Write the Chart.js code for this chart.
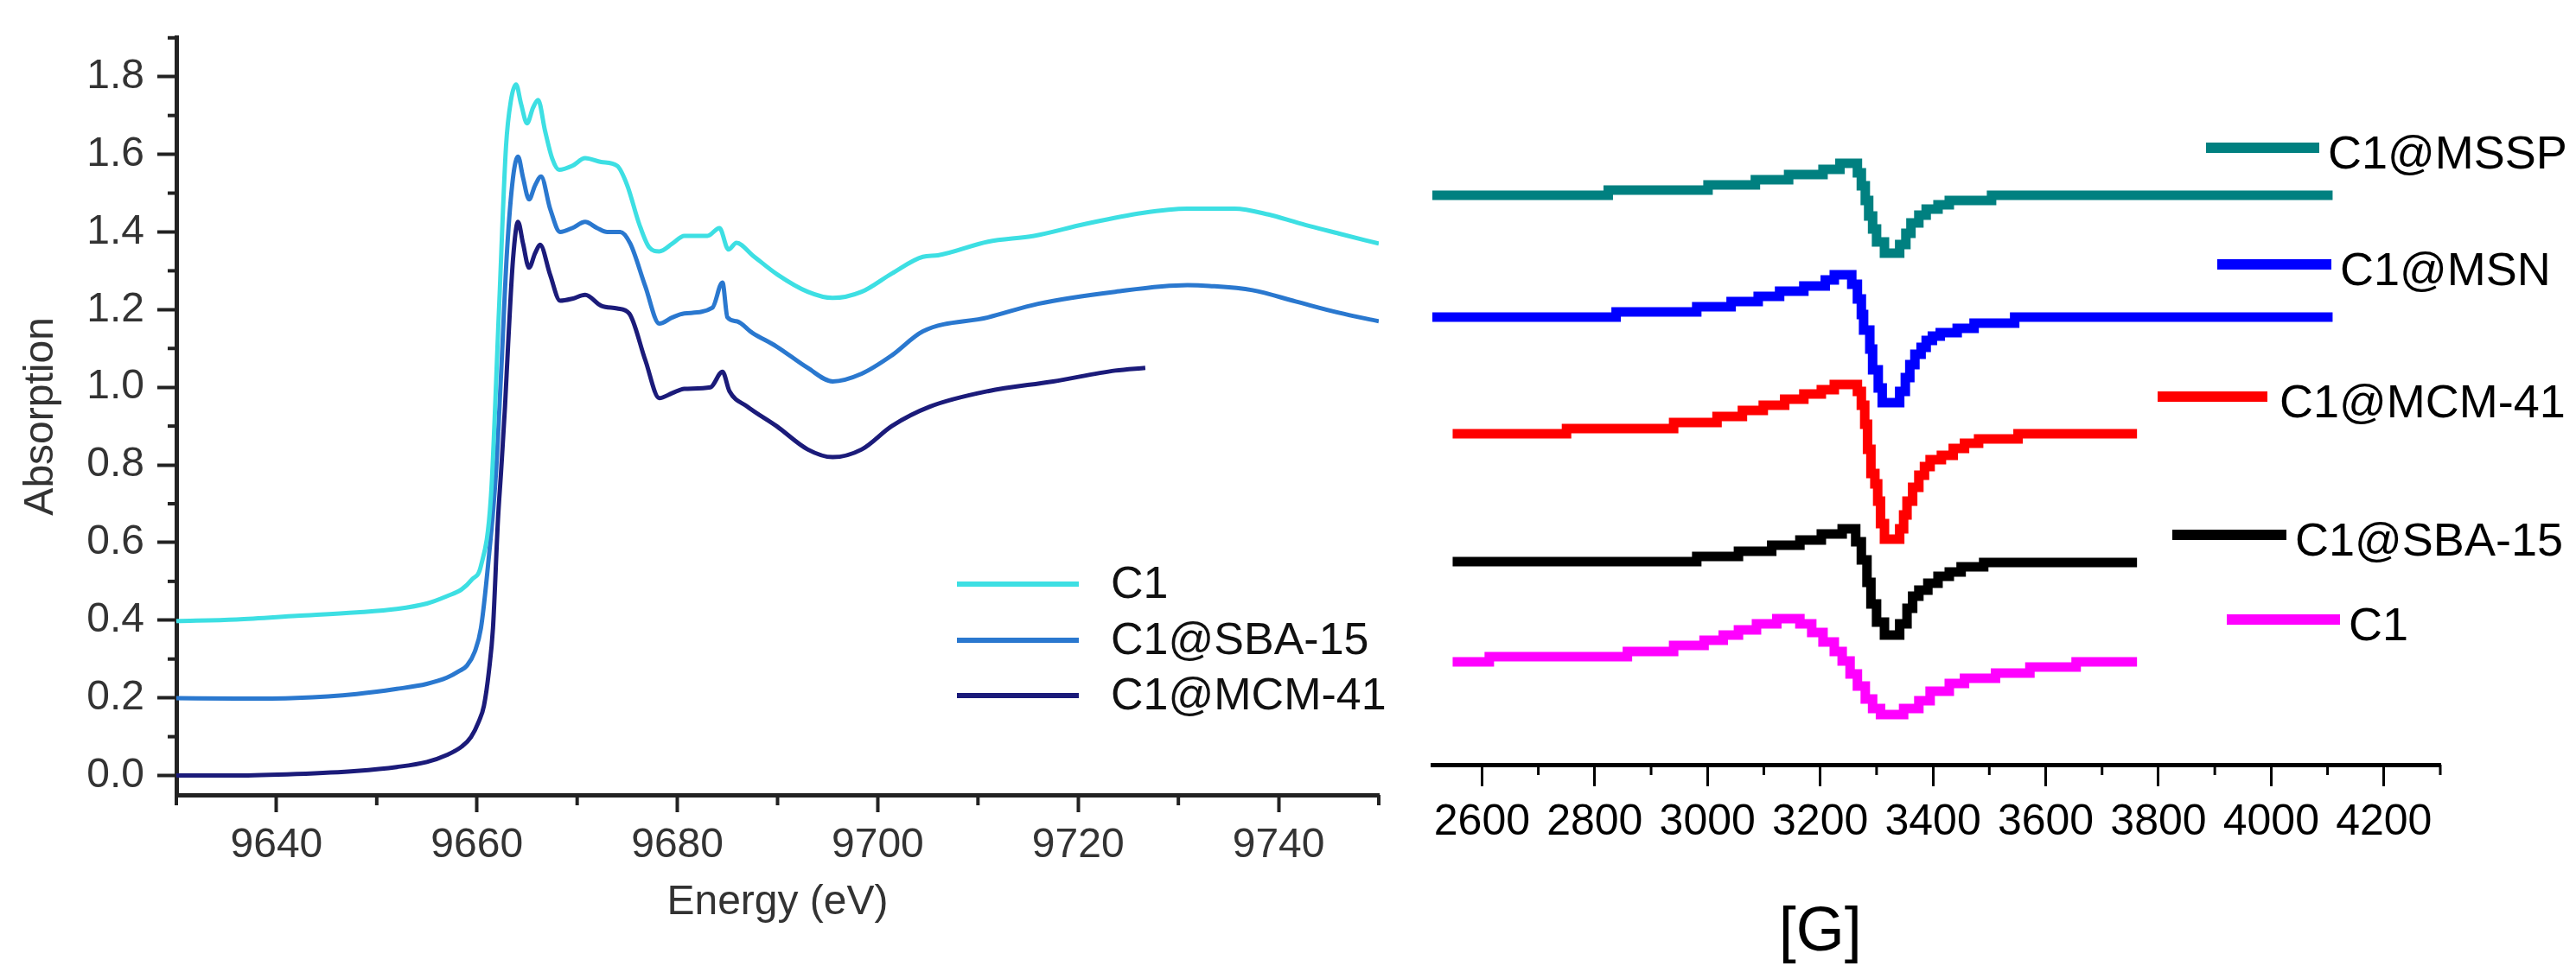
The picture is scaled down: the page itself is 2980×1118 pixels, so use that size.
<!DOCTYPE html>
<html><head><meta charset="utf-8">
<script src="https://cdn.jsdelivr.net/npm/chart.js@4.4.1/dist/chart.umd.min.js"></script>
<style>
html,body{margin:0;padding:0;background:#fff;width:2980px;height:1118px;overflow:hidden}
#l{position:absolute;left:0;top:0}
#r{position:absolute;left:1600px;top:0}
</style></head><body>
<canvas id="l" width="1640" height="1118"></canvas>
<canvas id="r" width="1380" height="1118"></canvas>
<script>
// ---------- Left panel: XANES ----------
const xanesLabels = ['C1', 'C1@SBA-15', 'C1@MCM-41'];
const energyC1 = [9630,9636,9642,9648,9652,9655,9657,9658.5,9659.5,9660.4,9661.4,9662.2,9662.9,9663.4,9663.9,9664.4,9665.0,9665.6,9666.1,9666.8,9667.5,9668.2,9669.5,9670.8,9672.4,9674.0,9675.0,9676.2,9677.2,9678.2,9679.5,9680.7,9683.0,9684.2,9685.1,9685.9,9687.5,9690.0,9693.0,9695.5,9698.4,9701.4,9704.5,9706.0,9711.0,9715.6,9720.6,9726.4,9730.9,9735.6,9739.0,9742.0,9746.0,9750.0];
const absC1 = [0.398,0.402,0.411,0.420,0.429,0.443,0.462,0.480,0.505,0.540,0.720,1.200,1.620,1.740,1.780,1.730,1.680,1.720,1.740,1.660,1.590,1.560,1.570,1.590,1.580,1.570,1.520,1.420,1.360,1.350,1.370,1.390,1.390,1.410,1.355,1.372,1.340,1.290,1.246,1.230,1.246,1.293,1.336,1.340,1.375,1.390,1.420,1.449,1.460,1.460,1.445,1.423,1.396,1.370];
const energySBA = [9630,9636,9642,9648,9652,9655,9657,9658.3,9659.0,9659.8,9660.4,9661.1,9661.9,9662.4,9663.0,9663.6,9664.1,9664.6,9665.2,9665.8,9666.4,9667.3,9668.3,9669.5,9670.8,9672.0,9673.0,9674.3,9675.3,9676.8,9678.2,9679.5,9680.7,9683.5,9684.5,9685.0,9685.9,9687.5,9689.9,9693.0,9695.5,9698.4,9701.4,9704.5,9711.0,9716.0,9723.7,9730.9,9733.1,9737.4,9741.7,9746.0,9750.0];
const absSBA = [0.199,0.198,0.200,0.210,0.223,0.236,0.252,0.270,0.283,0.320,0.380,0.540,0.780,1.030,1.350,1.540,1.594,1.540,1.484,1.520,1.543,1.460,1.400,1.410,1.426,1.410,1.400,1.400,1.370,1.260,1.164,1.180,1.190,1.205,1.270,1.180,1.170,1.140,1.105,1.050,1.015,1.035,1.082,1.144,1.180,1.215,1.246,1.263,1.261,1.250,1.221,1.192,1.170];
const energyMCM = [9630,9636,9642,9648,9652,9655,9657,9658.5,9659.4,9660.2,9660.7,9661.2,9661.6,9662.1,9662.4,9662.8,9663.1,9663.6,9664.1,9664.6,9665.2,9665.8,9666.3,9667.3,9668.3,9669.5,9670.8,9672.4,9674.0,9675.2,9676.8,9678.2,9679.5,9680.7,9683.3,9684.5,9685.2,9687.0,9689.9,9693.0,9695.5,9698.4,9701.4,9705.2,9711.0,9717.5,9723.7,9726.7];
const absMCM = [0.000,0.000,0.004,0.012,0.022,0.035,0.053,0.075,0.099,0.140,0.180,0.270,0.380,0.660,0.780,0.950,1.105,1.330,1.426,1.370,1.308,1.345,1.367,1.290,1.223,1.228,1.238,1.210,1.203,1.190,1.070,0.972,0.985,0.996,1.000,1.040,0.990,0.950,0.900,0.840,0.820,0.840,0.900,0.950,0.990,1.015,1.043,1.050];
const energyMajorTicks = [9640,9660,9680,9700,9720,9740];
const energyMinorTicks = [9630,9650,9670,9690,9710,9730,9750];
const absMajorTicks = [0.0,0.2,0.4,0.6,0.8,1.0,1.2,1.4,1.6,1.8];
const absMinorTicks = [0.1,0.3,0.5,0.7,0.9,1.1,1.3,1.5,1.7,1.9];

// ---------- Right panel: EPR ----------
const eprLabels = ['C1@MSSP', 'C1@MSN', 'C1@MCM-41', 'C1@SBA-15', 'C1'];
const fieldMSSP = [2512,2824,3001,3085,3144,3205,3235,3266,3273,3280,3286,3293,3300,3314,3341,3352,3361,3375,3388,3409,3429,3504,4109];
const sigMSSP = [6.59,6.65,6.71,6.77,6.83,6.89,6.96,6.85,6.70,6.53,6.35,6.20,6.05,5.92,6.02,6.15,6.27,6.36,6.43,6.48,6.53,6.59,6.59];
const fieldMSN = [2512,2838,2981,3042,3090,3128,3171,3209,3225,3256,3266,3273,3277,3288,3293,3303,3310,3341,3351,3359,3368,3379,3388,3399,3413,3443,3473,3545,4109];
const sigMSN = [5.18,5.24,5.30,5.36,5.42,5.48,5.54,5.61,5.67,5.56,5.39,5.21,5.03,4.81,4.57,4.36,4.19,4.32,4.48,4.63,4.75,4.83,4.91,4.96,5.00,5.05,5.11,5.18,5.18];
const fieldMCM = [2548,2750,2940,3017,3062,3099,3137,3171,3202,3225,3266,3273,3279,3284,3290,3297,3302,3307,3314,3341,3348,3354,3364,3375,3385,3395,3415,3436,3456,3481,3551,3762];
const sigMCM = [3.83,3.89,3.96,4.03,4.10,4.16,4.23,4.29,4.34,4.40,4.32,4.16,3.94,3.65,3.37,3.25,3.05,2.79,2.61,2.73,2.89,3.05,3.21,3.35,3.45,3.53,3.58,3.66,3.72,3.77,3.83,3.83];
const fieldSBA = [2548,2981,3055,3114,3164,3202,3239,3263,3273,3283,3290,3300,3314,3341,3354,3364,3375,3391,3409,3429,3450,3490,3762];
const sigSBA = [2.35,2.41,2.47,2.54,2.60,2.67,2.73,2.58,2.37,2.11,1.86,1.65,1.50,1.63,1.81,1.95,2.02,2.10,2.18,2.23,2.29,2.34,2.34];
const fieldC1 = [2548,2613,2858,2940,2994,3028,3055,3087,3123,3164,3185,3205,3225,3239,3253,3266,3280,3293,3307,3348,3375,3395,3429,3456,3511,3572,3654,3762];
const sigC1 = [1.19,1.25,1.31,1.38,1.44,1.50,1.56,1.63,1.69,1.63,1.53,1.42,1.31,1.20,1.05,0.91,0.76,0.65,0.58,0.65,0.74,0.85,0.94,1.00,1.06,1.13,1.19,1.19];
const fieldMajorTicks = [2600,2800,3000,3200,3400,3600,3800,4000,4200];
const fieldMinorTicks = [2700,2900,3100,3300,3500,3700,3900,4100,4300];

const FONT = "'Liberation Sans', Arial, sans-serif";
const pts = (xs, ys) => xs.map((x, i) => ({x: x, y: ys[i]}));

const minorTicks = {
  id: 'minorTicks',
  afterDraw(chart, args, o) {
    const ctx = chart.ctx, ca = chart.chartArea;
    ctx.save();
    ctx.strokeStyle = o.color; ctx.lineWidth = o.width;
    if (o.x) o.x.forEach(v => {
      const p = chart.scales.x.getPixelForValue(v);
      ctx.beginPath(); ctx.moveTo(p, ca.bottom); ctx.lineTo(p, ca.bottom + o.xLen); ctx.stroke();
    });
    if (o.y) o.y.forEach(v => {
      const p = chart.scales.y.getPixelForValue(v);
      ctx.beginPath(); ctx.moveTo(ca.left, p); ctx.lineTo(ca.left - o.yLen, p); ctx.stroke();
    });
    ctx.restore();
  }
};

const placedLegend = {
  id: 'placedLegend',
  afterDraw(chart, args, o) {
    const ctx = chart.ctx;
    ctx.save();
    chart.data.datasets.forEach((ds, i) => {
      const L = o.layout[i];
      ctx.strokeStyle = ds.borderColor; ctx.lineWidth = o.lineWidth; ctx.lineCap = 'butt';
      ctx.beginPath(); ctx.moveTo(L.x1, L.y); ctx.lineTo(L.x2, L.y); ctx.stroke();
      ctx.fillStyle = o.color; ctx.font = o.font; ctx.textAlign = 'left'; ctx.textBaseline = 'alphabetic';
      ctx.fillText(ds.label, L.tx, L.ty);
    });
    if (o.extra) {
      const e = o.extra;
      ctx.font = e.font; ctx.fillStyle = o.color; ctx.textAlign = 'center';
      ctx.fillText(e.text, chart.scales.x.getPixelForValue(e.atValue), e.ty);
    }
    ctx.restore();
  }
};

new Chart(document.getElementById('l'), {
  type: 'line',
  data: {
    datasets: [
      {label: xanesLabels[0], data: pts(energyC1, absC1), borderColor: '#3ddfe3'},
      {label: xanesLabels[1], data: pts(energySBA, absSBA), borderColor: '#2a78cf'},
      {label: xanesLabels[2], data: pts(energyMCM, absMCM), borderColor: '#1b1b7a'}
    ].map(d => Object.assign(d, {borderWidth: 5, pointRadius: 0, cubicInterpolationMode: 'monotone', fill: false}))
  },
  options: {
    responsive: false, animation: false, devicePixelRatio: 1,
    layout: {padding: {left: 0, top: 30, right: 45, bottom: 0}},
    plugins: {
      legend: {display: false}, tooltip: {enabled: false},
      minorTicks: {x: energyMinorTicks, y: absMinorTicks, xLen: 12, yLen: 10, width: 4, color: '#222'},
      placedLegend: {
        lineWidth: 6, color: '#111', font: '52px ' + FONT,
        layout: [
          {x1: 1107, x2: 1248, y: 676, tx: 1285, ty: 692},
          {x1: 1107, x2: 1248, y: 741, tx: 1285, ty: 757},
          {x1: 1107, x2: 1248, y: 805, tx: 1285, ty: 821}
        ]
      }
    },
    scales: {
      x: {
        type: 'linear', position: 'bottom', min: 9630, max: 9750,
        afterBuildTicks: s => { s.ticks = energyMajorTicks.map(v => ({value: v})); },
        afterFit: s => { s.height = 198; },
        grid: {drawOnChartArea: false, drawTicks: true, tickLength: 20, tickWidth: 4, tickColor: '#222'},
        border: {display: true, width: 5, color: '#222'},
        ticks: {font: {size: 48, family: FONT}, color: '#333', padding: 10, maxRotation: 0, autoSkip: false,
                callback: v => String(v)},
        title: {display: true, text: 'Energy (eV)', font: {size: 48, family: FONT}, color: '#333', padding: {top: 0, bottom: 44}}
      },
      y: {
        type: 'linear', position: 'left', min: -0.05, max: 1.9,
        afterBuildTicks: s => { s.ticks = absMajorTicks.map(v => ({value: v})); },
        afterFit: s => { s.width = 204; },
        grid: {drawOnChartArea: false, drawTicks: true, tickLength: 22, tickWidth: 4, tickColor: '#222'},
        border: {display: true, width: 5, color: '#222'},
        ticks: {font: {size: 48, family: FONT}, color: '#333', padding: 15, autoSkip: false,
                callback: v => Number(v).toFixed(1)},
        title: {display: true, text: 'Absorption', font: {size: 48, family: FONT}, color: '#333', padding: {top: 19, bottom: 0}}
      }
    }
  },
  plugins: [minorTicks, placedLegend]
});

new Chart(document.getElementById('r'), {
  type: 'line',
  data: {
    datasets: [
      {label: eprLabels[0], data: pts(fieldMSSP, sigMSSP), borderColor: '#008080'},
      {label: eprLabels[1], data: pts(fieldMSN, sigMSN), borderColor: '#0000ff'},
      {label: eprLabels[2], data: pts(fieldMCM, sigMCM), borderColor: '#ff0000'},
      {label: eprLabels[3], data: pts(fieldSBA, sigSBA), borderColor: '#000000'},
      {label: eprLabels[4], data: pts(fieldC1, sigC1), borderColor: '#ff00ff'}
    ].map(d => Object.assign(d, {borderWidth: 11, pointRadius: 0, stepped: true, fill: false, borderJoinStyle: 'miter', borderCapStyle: 'butt'}))
  },
  options: {
    responsive: false, animation: false, devicePixelRatio: 1,
    layout: {padding: {left: 57, top: 0, right: 157, bottom: 0}},
    plugins: {
      legend: {display: false}, tooltip: {enabled: false},
      minorTicks: {x: fieldMinorTicks, xLen: 12, width: 3, color: '#000'},
      placedLegend: {
        lineWidth: 12, color: '#000', font: '54px ' + FONT,
        layout: [
          {x1: 952, x2: 1083, y: 171, tx: 1093, ty: 195},
          {x1: 965, x2: 1097, y: 306, tx: 1107, ty: 330},
          {x1: 896, x2: 1023, y: 459, tx: 1037, ty: 483},
          {x1: 913, x2: 1045, y: 619, tx: 1055, ty: 643},
          {x1: 976, x2: 1107, y: 717, tx: 1117, ty: 741}
        ],
        extra: {text: '[G]', atValue: 3200, ty: 1100, font: '72px ' + FONT}
      }
    },
    scales: {
      x: {
        type: 'linear', position: 'bottom', min: 2512, max: 4300,
        afterBuildTicks: s => { s.ticks = fieldMajorTicks.map(v => ({value: v})); },
        afterFit: s => { s.height = 1118 - 885; },
        grid: {drawOnChartArea: false, drawTicks: true, tickLength: 25, tickWidth: 3, tickColor: '#000'},
        border: {display: true, width: 5, color: '#000'},
        ticks: {font: {size: 50, family: FONT}, color: '#000', padding: 12, maxRotation: 0, autoSkip: false,
                callback: v => String(v)}
      },
      y: {type: 'linear', display: false, min: 0, max: 8.85}
    }
  },
  plugins: [minorTicks, placedLegend]
});
</script></body></html>
